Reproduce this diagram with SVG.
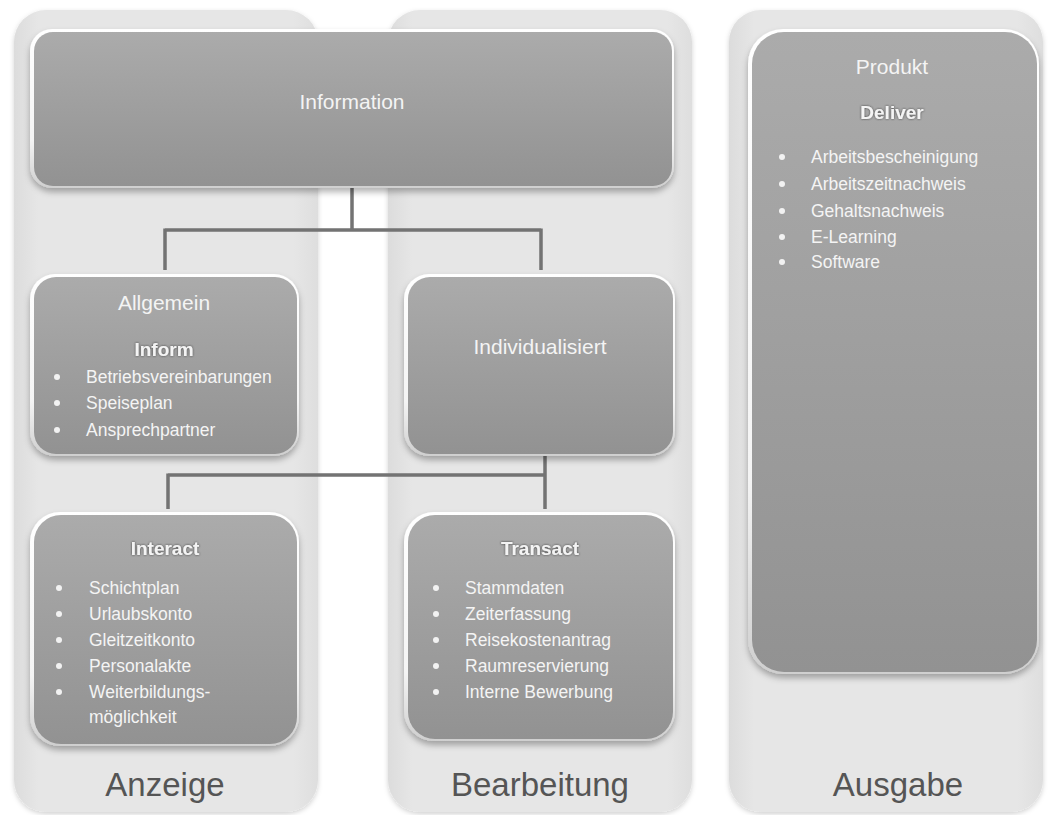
<svg xmlns="http://www.w3.org/2000/svg" width="1048" height="815" viewBox="0 0 1048 815">
<defs>
<linearGradient id="colGrad" x1="0" y1="0" x2="1" y2="0">
<stop offset="0" stop-color="#dcdcdc"/>
<stop offset="0.08" stop-color="#e6e6e6"/>
<stop offset="0.92" stop-color="#e6e6e6"/>
<stop offset="1" stop-color="#dedede"/>
</linearGradient>
<linearGradient id="boxGrad" x1="0" y1="0" x2="0" y2="1">
<stop offset="0" stop-color="#ababab"/>
<stop offset="1" stop-color="#929292"/>
</linearGradient>
<linearGradient id="rimGrad" x1="0" y1="0" x2="0" y2="1">
<stop offset="0" stop-color="#ffffff"/>
<stop offset="0.7" stop-color="#f4f4f4"/>
<stop offset="1" stop-color="#cfcfcf"/>
</linearGradient>
<filter id="colShadow" x="-10%" y="-10%" width="120%" height="120%">
<feDropShadow dx="0" dy="2" stdDeviation="2.5" flood-color="#000" flood-opacity="0.18"/>
</filter>
<filter id="boxShadow" x="-10%" y="-10%" width="120%" height="125%">
<feDropShadow dx="0" dy="4" stdDeviation="3" flood-color="#000" flood-opacity="0.3"/>
</filter>
<filter id="titleGlow" x="-20%" y="-40%" width="140%" height="180%">
<feDropShadow dx="0" dy="0" stdDeviation="1.2" flood-color="#333" flood-opacity="0.9"/>
</filter>
</defs>
<style>
.col{fill:url(#colGrad);filter:url(#colShadow)}
.rim{fill:url(#rimGrad);filter:url(#boxShadow)}
.box{fill:url(#boxGrad)}
text{font-family:"Liberation Sans",Arial,sans-serif;fill:#f4f4f4}
.head{font-size:21px;text-anchor:middle}
.title{font-size:19px;font-weight:bold;text-anchor:middle;filter:url(#titleGlow)}
.item{font-size:17.5px}
.big{font-size:33px;text-anchor:middle;fill:#555555}
.dot{fill:#f2f2f2}
.conn{fill:none;stroke:#737373;stroke-width:3.5;stroke-linecap:butt}
</style>
<rect width="1048" height="815" fill="#ffffff"/>

<g id="col-anzeige">
<rect class="col" x="14" y="10" width="304" height="802" rx="32"/>
<text class="big" x="165" y="796">Anzeige</text>
</g>
<g id="col-bearbeitung">
<rect class="col" x="388" y="10" width="304" height="802" rx="32"/>
<text class="big" x="540" y="796">Bearbeitung</text>
</g>
<g id="col-ausgabe">
<rect class="col" x="729" y="10" width="314" height="802" rx="32"/>
<text class="big" x="898" y="796">Ausgabe</text>
</g>

<g id="connectors">
<path class="conn" d="M352 187 V230 M165 230 H541 M165 228.5 V270 M541 228.5 V270"/>
<path class="conn" d="M545 455 V509 M168 475 H546.5 M168 473.5 V509"/>
</g>

<g id="node-information">
<rect class="rim" x="30" y="29" width="644" height="159" rx="22"/>
<rect class="box" x="34" y="32" width="638" height="154" rx="19"/>
<text class="head" x="352" y="109">Information</text>
</g>

<g id="node-allgemein">
<rect class="rim" x="30" y="274" width="269" height="182" rx="25"/>
<rect class="box" x="34" y="277" width="263" height="177" rx="22"/>
<text class="head" x="164" y="310">Allgemein</text>
<text class="title" x="164" y="356">Inform</text>
<circle class="dot" cx="57" cy="377" r="3"/>
<circle class="dot" cx="57" cy="403" r="3"/>
<circle class="dot" cx="57" cy="430" r="3"/>
<text class="item" x="86" y="383">Betriebsvereinbarungen</text>
<text class="item" x="86" y="409">Speiseplan</text>
<text class="item" x="86" y="436">Ansprechpartner</text>
</g>

<g id="node-individualisiert">
<rect class="rim" x="404" y="274" width="271" height="182" rx="25"/>
<rect class="box" x="408" y="277" width="265" height="177" rx="22"/>
<text class="head" x="540" y="354">Individualisiert</text>
</g>

<g id="node-interact">
<rect class="rim" x="30" y="512" width="269" height="234" rx="30"/>
<rect class="box" x="34" y="515" width="263" height="229" rx="27"/>
<text class="title" x="165" y="555">Interact</text>
<circle class="dot" cx="59" cy="588" r="3"/>
<circle class="dot" cx="59" cy="614" r="3"/>
<circle class="dot" cx="59" cy="640" r="3"/>
<circle class="dot" cx="59" cy="666" r="3"/>
<circle class="dot" cx="59" cy="692" r="3"/>
<text class="item" x="89" y="594">Schichtplan</text>
<text class="item" x="89" y="620">Urlaubskonto</text>
<text class="item" x="89" y="646">Gleitzeitkonto</text>
<text class="item" x="89" y="672">Personalakte</text>
<text class="item" x="89" y="698">Weiterbildungs-</text>
<text class="item" x="89" y="723">möglichkeit</text>
</g>

<g id="node-transact">
<rect class="rim" x="404" y="512" width="271" height="229" rx="30"/>
<rect class="box" x="408" y="515" width="265" height="224" rx="27"/>
<text class="title" x="540" y="555">Transact</text>
<circle class="dot" cx="436" cy="588" r="3"/>
<circle class="dot" cx="436" cy="614" r="3"/>
<circle class="dot" cx="436" cy="640" r="3"/>
<circle class="dot" cx="436" cy="666" r="3"/>
<circle class="dot" cx="436" cy="692" r="3"/>
<text class="item" x="465" y="594">Stammdaten</text>
<text class="item" x="465" y="620">Zeiterfassung</text>
<text class="item" x="465" y="646">Reisekostenantrag</text>
<text class="item" x="465" y="672">Raumreservierung</text>
<text class="item" x="465" y="698">Interne Bewerbung</text>
</g>

<g id="node-produkt">
<rect class="rim" x="748" y="29" width="291" height="645" rx="35"/>
<rect class="box" x="752" y="32" width="285" height="640" rx="32"/>
<text class="head" x="892" y="74">Produkt</text>
<text class="title" x="892" y="119">Deliver</text>
<circle class="dot" cx="782" cy="157" r="3"/>
<circle class="dot" cx="782" cy="184" r="3"/>
<circle class="dot" cx="782" cy="211" r="3"/>
<circle class="dot" cx="782" cy="237" r="3"/>
<circle class="dot" cx="782" cy="262" r="3"/>
<text class="item" x="811" y="163">Arbeitsbescheinigung</text>
<text class="item" x="811" y="190">Arbeitszeitnachweis</text>
<text class="item" x="811" y="217">Gehaltsnachweis</text>
<text class="item" x="811" y="243">E-Learning</text>
<text class="item" x="811" y="268">Software</text>
</g>
</svg>
